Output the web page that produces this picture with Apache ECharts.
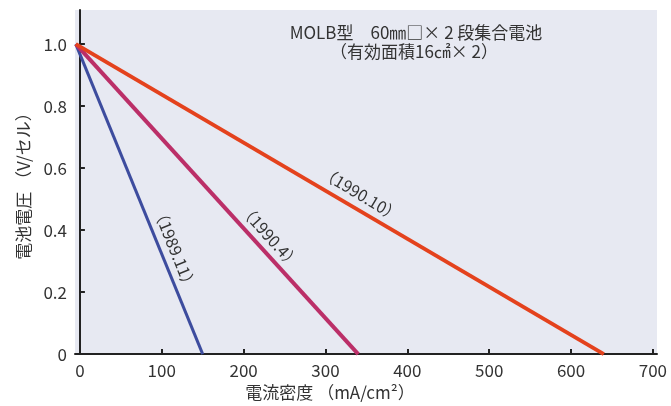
<!DOCTYPE html>
<html>
<head>
<meta charset="utf-8">
<script src="https://cdn.jsdelivr.net/npm/echarts@6/dist/echarts.min.js"></script>
<style>
  html, body { margin: 0; padding: 0; background: #fff; }
  #main { width: 671px; height: 406px; }
</style>
</head>
<body>
<div id="main"></div>
<script>
// 電流密度 (mA/cm2) の目盛
var xTicks = [0, 100, 200, 300, 400, 500, 600, 700];
var yTicks = [0, 0.2, 0.4, 0.6, 0.8, 1.0];

// 各世代の I-V 特性 (開始点, 電圧 0 の点)
var line198911 = [[-5, 1.0], [150, 0]];
var line19904 = [[-5, 1.0], [340, 0]];
var line199010 = [[-5, 1.0], [640, 0]];

var seriesNames = ['（1989.11）', '（1990.4）', '（1990.10）'];
// ラベルの置き場所 (データ座標)
var labelAt = [[116, 0.34], [232, 0.38], [343, 0.516]];
var labelRotate = [-68, -48, -31];

var narrow = '"Liberation Sans Narrow", "Noto Sans CJK JP", sans-serif';
var cjk = '"Noto Sans CJK JP", sans-serif';

var myChart = echarts.init(document.getElementById('main'));

function makeLine(idx, data, color, width) {
    return {
        name: seriesNames[idx],
        type: 'line',
        data: data,
        symbol: 'none',
        lineStyle: { color: color, width: width },
        z: 3 + idx,
        markPoint: {
            symbol: 'circle',
            symbolSize: 0,
            silent: true,
            data: [{ coord: labelAt[idx] }],
            label: {
                show: true,
                formatter: seriesNames[idx],
                rotate: labelRotate[idx],
                color: '#333',
                fontSize: 16,
                fontFamily: narrow
            }
        }
    };
}

var option = {
    backgroundColor: '#fff',
    animation: false,
    title: [
        {
            text: 'MOLB型　60㎜□× 2 段集合電池',
            left: 411,
            top: 19,
            textAlign: 'center',
            textStyle: { fontSize: 17, fontWeight: 'normal', color: '#333', fontFamily: cjk }
        },
        {
            text: '（有効面積16㎠× 2）',
            left: 409,
            top: 38,
            textAlign: 'center',
            textStyle: { fontSize: 17, fontWeight: 'normal', color: '#333', fontFamily: cjk }
        }
    ],
    grid: {
        left: 75,
        top: 10,
        right: 14,
        bottom: 51,
        show: true,
        backgroundColor: '#e7e9f2',
        borderWidth: 0
    },
    xAxis: {
        type: 'value',
        min: -6,
        max: 705,
        name: '電流密度 （mA/cm²）',
        nameLocation: 'middle',
        nameGap: 27,
        nameTextStyle: { fontSize: 17, color: '#333', fontFamily: cjk, padding: [0, 72, 0, 0] },
        axisLine: { lineStyle: { color: '#222', width: 2 } },
        axisTick: { inside: true, length: 5, customValues: xTicks, lineStyle: { color: '#222', width: 2 } },
        axisLabel: { customValues: xTicks, margin: 8, fontSize: 17, color: '#333', fontFamily: narrow },
        splitLine: { show: false }
    },
    yAxis: {
        type: 'value',
        min: 0,
        max: 1.11,
        name: '電池電圧 （V/セル）',
        nameLocation: 'middle',
        nameGap: 40,
        nameRotate: 90,
        nameTextStyle: { fontSize: 17, color: '#333', fontFamily: cjk },
        axisLine: { show: true, lineStyle: { color: '#222', width: 2 } },
        axisTick: { show: true, inside: true, length: 5, customValues: yTicks, lineStyle: { color: '#222', width: 2 } },
        axisLabel: {
            customValues: yTicks,
            margin: 8,
            fontSize: 17,
            color: '#333',
            fontFamily: narrow,
            formatter: function (v) { return v === 0 ? '0' : v.toFixed(1); }
        },
        splitLine: { show: false }
    },
    series: [
        makeLine(0, line198911, '#3d4c9e', 3),
        makeLine(1, line19904, '#bb2f68', 4),
        makeLine(2, line199010, '#e4421d', 4)
    ]
};

myChart.setOption(option);
</script>
</body>
</html>
